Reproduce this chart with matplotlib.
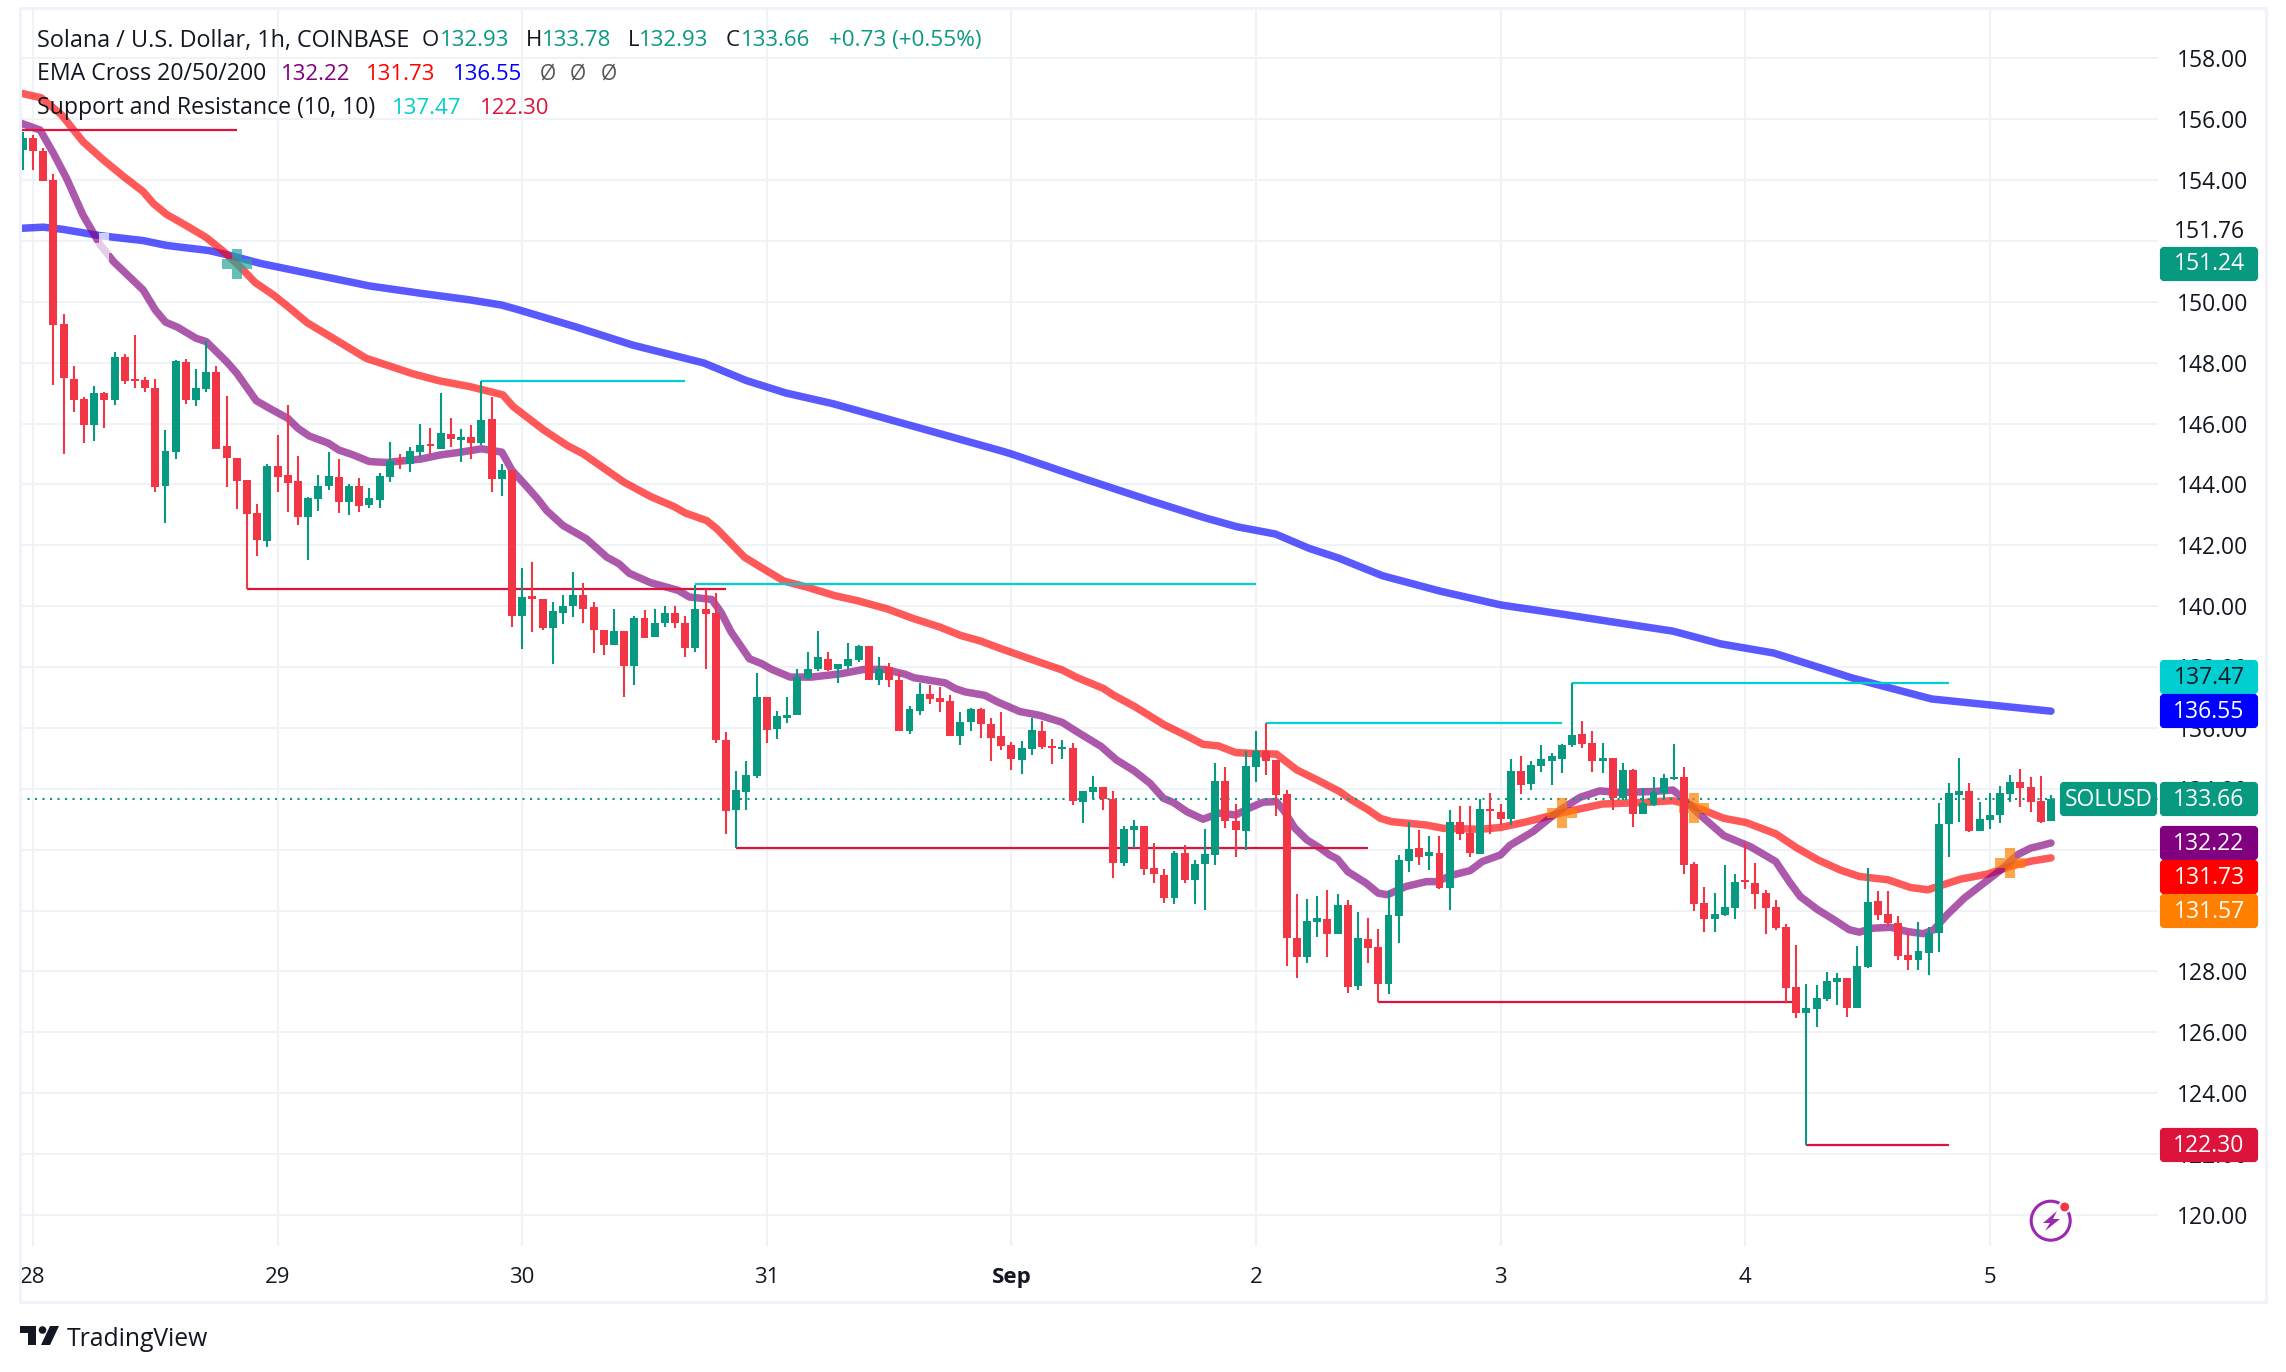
#!/usr/bin/env python3

"""SOL/USD 1h candles with EMA cross and support/resistance"""

import matplotlib
matplotlib.use("Agg")
import matplotlib.pyplot as plt
from matplotlib.patches import FancyBboxPatch, Rectangle, Circle, Polygon
from matplotlib.transforms import IdentityTransform

W, H = 2286, 1372
plt.rcParams["font.family"] = ["Open Sans", "DejaVu Sans"]

UP = "#089981"
DOWN = "#f23645"
GRID = "#f0f3f5"
TEXT = "#131722"

# open, high, low, close - first bar is 27 Aug 23:00
candles = [
    (154.99, 155.58, 154.33, 155.37), (155.38, 155.48, 154.33, 154.95), (154.95, 155.05, 153.97, 153.97),
    (154.00, 154.20, 147.27, 149.24), (149.27, 149.60, 145.00, 147.50), (147.46, 147.89, 146.38, 146.78),
    (146.81, 146.87, 145.36, 145.95), (145.95, 147.23, 145.43, 147.00), (147.00, 147.04, 145.86, 146.78),
    (146.78, 148.35, 146.61, 148.19), (148.19, 148.29, 147.30, 147.40), (147.46, 148.91, 147.17, 147.40),
    (147.43, 147.53, 147.04, 147.17), (147.17, 147.46, 143.75, 143.92), (143.95, 145.79, 142.74, 145.10),
    (145.07, 148.09, 144.84, 148.06), (148.02, 148.12, 146.64, 146.78), (146.78, 147.79, 146.58, 147.17),
    (147.14, 148.71, 147.04, 147.69), (147.69, 147.89, 145.17, 145.17), (145.26, 146.91, 143.92, 144.87),
    (144.87, 144.87, 143.20, 144.12), (144.15, 144.15, 140.56, 143.03), (143.06, 143.36, 141.65, 142.18),
    (142.14, 144.67, 141.95, 144.61), (144.61, 145.63, 143.75, 144.25), (144.31, 146.61, 143.10, 144.05),
    (144.12, 144.94, 142.67, 142.93), (142.93, 143.59, 141.52, 143.56), (143.52, 144.31, 143.13, 143.95),
    (143.95, 145.07, 143.82, 144.28), (144.25, 144.84, 143.06, 143.43), (143.43, 144.02, 143.00, 143.95),
    (143.95, 144.21, 143.10, 143.29), (143.33, 143.89, 143.23, 143.56), (143.49, 144.38, 143.23, 144.28),
    (144.25, 145.40, 144.08, 144.77), (144.80, 145.00, 144.51, 144.74), (144.67, 145.23, 144.41, 145.10),
    (145.07, 145.99, 144.90, 145.30), (145.33, 145.86, 145.00, 145.26), (145.17, 147.00, 145.17, 145.69),
    (145.66, 146.18, 145.23, 145.49), (145.46, 145.82, 144.74, 145.56), (145.56, 145.95, 144.84, 145.36),
    (145.36, 147.40, 145.30, 146.12), (146.15, 146.87, 143.75, 144.18), (144.18, 144.67, 143.62, 144.48),
    (144.46, 144.46, 139.30, 139.66), (139.66, 141.24, 138.58, 140.29), (140.32, 141.44, 139.14, 140.25),
    (140.22, 140.22, 139.23, 139.27), (139.27, 140.12, 138.09, 139.83), (139.79, 140.35, 139.40, 140.02),
    (139.99, 141.11, 139.63, 140.35), (140.35, 140.75, 139.43, 139.92), (139.96, 140.12, 138.45, 139.23),
    (139.23, 139.23, 138.38, 138.71), (138.71, 139.89, 138.71, 139.17), (139.17, 139.20, 137.03, 138.02),
    (138.05, 139.69, 137.40, 139.60), (139.60, 139.86, 138.97, 138.97), (139.00, 139.89, 139.00, 139.46),
    (139.43, 140.02, 139.33, 139.76), (139.76, 139.99, 139.27, 139.43), (139.43, 139.69, 138.32, 138.61),
    (138.61, 140.71, 138.48, 139.92), (139.92, 140.55, 137.95, 139.73), (139.79, 140.42, 135.52, 135.59),
    (135.59, 135.85, 132.52, 133.26), (133.30, 134.57, 132.06, 133.95), (133.88, 134.90, 133.29, 134.44),
    (134.41, 137.82, 134.37, 137.03), (137.03, 137.03, 135.49, 135.92), (135.95, 136.57, 135.62, 136.38),
    (136.34, 137.00, 136.15, 136.44), (136.41, 137.95, 136.41, 137.66), (137.63, 138.48, 137.56, 137.95),
    (137.95, 139.20, 137.86, 138.32), (138.28, 138.51, 137.86, 137.89), (137.92, 138.09, 137.49, 138.09),
    (138.05, 138.78, 137.95, 138.25), (138.22, 138.74, 138.18, 138.68), (138.68, 138.68, 137.59, 137.59),
    (137.59, 138.32, 137.40, 137.95), (137.99, 138.12, 137.36, 137.56), (137.59, 137.86, 135.89, 135.89),
    (135.89, 136.71, 135.79, 136.61), (136.57, 137.49, 136.41, 137.10), (137.10, 137.40, 136.77, 136.94),
    (136.97, 137.33, 136.51, 136.84), (136.90, 137.07, 135.75, 135.75), (135.75, 136.51, 135.43, 136.21),
    (136.18, 136.67, 135.89, 136.61), (136.61, 136.67, 135.66, 136.12), (136.12, 136.31, 134.90, 135.66),
    (135.74, 136.53, 135.28, 135.41), (135.44, 135.54, 134.62, 134.98), (134.95, 135.57, 134.49, 135.34),
    (135.31, 136.33, 135.11, 135.93), (135.90, 136.23, 135.31, 135.38), (135.41, 135.64, 134.82, 135.34),
    (135.31, 135.61, 134.98, 135.38), (135.34, 135.51, 133.47, 133.60), (133.57, 133.93, 132.88, 133.93),
    (133.90, 134.42, 133.67, 134.06), (134.06, 134.06, 133.31, 133.67), (133.67, 133.93, 131.07, 131.57),
    (131.57, 132.78, 131.47, 132.68), (132.65, 132.98, 132.06, 132.78), (132.78, 132.78, 131.17, 131.37),
    (131.40, 132.22, 130.91, 131.21), (131.17, 131.37, 130.25, 130.42), (130.42, 131.96, 130.22, 131.89),
    (131.89, 132.16, 130.91, 131.01), (131.01, 131.67, 130.22, 131.53), (131.53, 132.68, 130.02, 131.86),
    (131.83, 134.85, 131.50, 134.26), (134.26, 134.72, 132.72, 132.95), (132.95, 133.50, 131.76, 132.65),
    (132.62, 135.24, 131.99, 134.75), (134.72, 135.90, 134.23, 135.24), (135.24, 136.16, 134.46, 134.92),
    (134.95, 134.95, 133.11, 133.80), (133.83, 133.96, 128.18, 129.10), (129.10, 130.55, 127.79, 128.48),
    (128.48, 130.38, 128.28, 129.66), (129.63, 130.48, 129.14, 129.76), (129.73, 130.68, 128.48, 129.23),
    (129.23, 130.55, 129.23, 130.19), (130.19, 130.35, 127.30, 127.49), (127.53, 129.96, 127.40, 129.10),
    (129.07, 129.76, 128.28, 128.78), (128.81, 129.40, 127.01, 127.59), (127.59, 130.65, 127.26, 129.86),
    (129.83, 131.83, 128.94, 131.67), (131.63, 132.91, 131.27, 132.03), (132.06, 132.65, 131.50, 131.76),
    (131.80, 132.45, 131.34, 131.93), (131.89, 132.45, 130.71, 130.75), (130.75, 133.31, 130.02, 132.91),
    (132.91, 133.44, 132.32, 132.52), (132.55, 133.44, 131.76, 131.89), (131.86, 133.67, 131.86, 133.34),
    (133.34, 133.87, 132.52, 133.27), (133.24, 133.50, 132.81, 133.01), (133.01, 134.98, 132.81, 134.59),
    (134.59, 135.08, 133.83, 134.13), (134.16, 134.92, 133.96, 134.78), (134.75, 135.44, 134.56, 134.98),
    (134.92, 135.18, 134.13, 135.08), (134.98, 135.47, 134.52, 135.44), (135.44, 137.47, 135.38, 135.77),
    (135.80, 136.23, 135.34, 135.47), (135.51, 135.90, 134.56, 134.92), (134.92, 135.51, 134.52, 135.01),
    (135.01, 135.01, 133.31, 133.70), (133.70, 134.85, 133.64, 134.62), (134.62, 134.65, 132.75, 133.18),
    (133.18, 134.03, 133.18, 133.54), (133.47, 134.39, 133.44, 133.90), (133.87, 134.49, 133.67, 134.36),
    (134.33, 135.47, 134.29, 134.39), (134.39, 134.72, 131.21, 131.50), (131.53, 131.60, 129.99, 130.22),
    (130.25, 130.78, 129.30, 129.73), (129.73, 130.58, 129.30, 129.89), (129.86, 131.50, 129.83, 130.12),
    (130.09, 131.21, 129.73, 130.94), (131.01, 132.22, 130.71, 130.94), (130.91, 131.57, 130.06, 130.55),
    (130.58, 130.68, 129.23, 130.09), (130.12, 130.35, 129.37, 129.43), (129.46, 129.56, 127.00, 127.46),
    (127.49, 128.87, 126.48, 126.64), (126.64, 127.60, 122.30, 126.81), (126.78, 127.56, 126.18, 127.14),
    (127.10, 127.99, 127.04, 127.69), (127.66, 127.96, 126.91, 127.79), (127.79, 127.79, 126.51, 126.81),
    (126.81, 128.84, 126.81, 128.19), (128.15, 131.41, 128.12, 130.29), (130.32, 130.65, 129.70, 129.86),
    (129.89, 130.65, 129.50, 129.60), (129.60, 129.83, 128.38, 128.52), (128.55, 129.34, 128.06, 128.38),
    (128.38, 129.63, 128.06, 128.68), (128.61, 129.47, 127.89, 129.27), (129.27, 133.54, 128.65, 132.85),
    (132.85, 134.20, 131.77, 133.87), (133.80, 135.02, 132.92, 133.93), (133.93, 134.20, 132.59, 132.62),
    (132.62, 133.57, 132.62, 133.01), (132.98, 133.87, 132.69, 133.15), (133.15, 134.10, 132.88, 133.87),
    (133.84, 134.46, 133.57, 134.23), (134.23, 134.66, 133.41, 134.03), (134.07, 134.39, 133.24, 133.57),
    (133.61, 134.43, 132.88, 132.92), (132.93, 133.78, 132.93, 133.66),
]
first_bar = -1

# (bar, price)
ema20 = [(-1.3, 155.88), (0.7, 155.64), (2, 154.88), (3.3, 154.05), (4.9, 152.85), (6.6, 151.87), (7.9, 151.32),
         (10.8, 150.39), (12, 149.73), (13, 149.33), (14.2, 149.16), (16, 148.80), (17, 148.69), (19, 148.03),
         (20, 147.65), (21.9, 146.75), (23.2, 146.50), (25, 146.17), (26, 145.84), (27.1, 145.59), (29, 145.35),
         (30, 145.13), (31.4, 144.97), (33, 144.75), (34.7, 144.72), (38, 144.83), (40, 144.97), (42, 145.06),
         (44, 145.17), (46, 145.06), (47, 144.46), (48.2, 144.02), (49.5, 143.53), (50.4, 143.14), (52, 142.65),
         (54.3, 142.21), (56.3, 141.61), (57.5, 141.39), (58.5, 141.08), (60.6, 140.77), (63.3, 140.52),
         (64.4, 140.30), (66.6, 140.22), (67.5, 139.80), (68.5, 139.15), (70.3, 138.27), (71.5, 138.11),
         (72.5, 137.92), (74.3, 137.67), (76.4, 137.67), (79.3, 137.78), (81.5, 137.92), (83.6, 137.92),
         (85.6, 137.76), (86.4, 137.65), (89.5, 137.48), (90.5, 137.29), (91.5, 137.18), (93.4, 137.07),
         (94.6, 136.86), (96.8, 136.54), (98.8, 136.41), (101, 136.18), (102.4, 135.88), (104.8, 135.39),
         (106.3, 134.95), (108, 134.60), (109.6, 134.18), (110.9, 133.69), (111.9, 133.55), (113.2, 133.25),
         (114.8, 133.00), (116.4, 133.20), (118, 133.14), (119.5, 133.39), (120.7, 133.56), (122, 133.58),
         (122.8, 133.25), (123.8, 132.71), (125, 132.32), (126.3, 132.05), (127.2, 131.83), (128, 131.69),
         (129, 131.28), (130.8, 130.90), (132, 130.57), (132.9, 130.52), (134.7, 130.79), (136.7, 130.95),
         (137.7, 130.95), (139.3, 131.17), (141, 131.31), (142.2, 131.61), (144, 131.83), (144.9, 132.14),
         (147.2, 132.60), (148.8, 133.03), (150.1, 133.36), (151.8, 133.72), (153.7, 133.93), (155.7, 133.88),
         (159, 133.91), (160.9, 133.96), (161.9, 133.69), (163.2, 133.25), (165.9, 132.46), (168.5, 132.10),
         (171, 131.61), (172.3, 130.96), (173.4, 130.46), (175.1, 130.03), (176.7, 129.70), (178.2, 129.37),
         (179.2, 129.29), (180.5, 129.42), (182.3, 129.45), (183.9, 129.31), (185.5, 129.24), (186.5, 129.37),
         (187.8, 129.86), (189.5, 130.41), (191.4, 130.90), (193.1, 131.34), (194.7, 131.83), (196, 132.05),
         (197.1, 132.14), (198, 132.22)]

ema50 = [(-1.3, 156.86), (0.8, 156.70), (2.8, 156.14), (4.9, 155.26), (6.9, 154.66), (8.9, 154.11), (10.8, 153.62),
         (11.8, 153.23), (13.1, 152.87), (15.1, 152.49), (17, 152.11), (18.7, 151.65), (20.3, 151.15), (21.8, 150.63),
         (23.6, 150.22), (25.2, 149.79), (26.9, 149.31), (29.2, 148.85), (32.7, 148.14), (34.7, 147.92), (37.3, 147.63),
         (39.9, 147.40), (42.9, 147.21), (46.1, 146.94), (47.1, 146.56), (50.1, 145.79), (52.4, 145.28), (54, 145.00),
         (56.1, 144.51), (58, 144.07), (60.6, 143.60), (62.9, 143.27), (64, 143.06), (66.1, 142.81), (67.1, 142.54),
         (69.8, 141.61), (71.4, 141.28), (73.7, 140.82), (76, 140.62), (78.6, 140.35), (81, 140.17), (83.8, 139.91),
         (86.4, 139.59), (89, 139.31), (91, 139.04), (93, 138.85), (95, 138.60), (97.2, 138.34), (101, 137.90),
         (102.4, 137.66), (105, 137.30), (106, 137.08), (108.1, 136.70), (111, 136.10), (113.2, 135.74), (114.8, 135.46),
         (116.3, 135.41), (118, 135.19), (119.7, 135.16), (122, 135.14), (124, 134.62), (126, 134.29), (128.2, 133.91),
         (129.2, 133.67), (131, 133.31), (132.2, 133.03), (133.3, 132.92), (136.7, 132.81), (138.4, 132.70), (142, 132.67),
         (144, 132.73), (146.6, 132.92), (150.1, 133.22), (154, 133.50), (158, 133.55), (160.9, 133.61), (162.6, 133.47),
         (165.9, 133.03), (168.1, 132.89), (171, 132.52), (173.1, 132.05), (175.1, 131.67), (177.4, 131.32), (179.2, 131.12),
         (182, 131.01), (184.2, 130.76), (185.9, 130.68), (189.1, 131.03), (191.8, 131.20), (194, 131.45), (196, 131.62),
         (198, 131.73)]

ema200 = [(-1.3, 152.41), (1, 152.45), (2.9, 152.38), (6.6, 152.17), (10.8, 152.01), (13.1, 151.85), (17.3, 151.68),
          (19.6, 151.50), (22.3, 151.26), (24.9, 151.08), (33, 150.52), (38, 150.28), (42.9, 150.06), (46, 149.89),
          (47.8, 149.72), (53.3, 149.17), (58.8, 148.58), (65.8, 147.99), (70, 147.41), (73.9, 147.00), (78.5, 146.65),
          (85, 146.04), (94.9, 145.11), (96, 145.00), (103, 144.20), (109.6, 143.47), (114.8, 142.92), (118.1, 142.61),
          (121.9, 142.37), (125.2, 141.90), (128.1, 141.58), (132.4, 141.00), (138.1, 140.49), (144, 140.04), (150.4, 139.72),
          (155.2, 139.47), (160.9, 139.18), (165.6, 138.76), (170.8, 138.46), (178.5, 137.64), (186.3, 136.95), (198, 136.55)]

# start bar, end bar, level
resistance = [(44, 64, 147.40), (65, 120, 140.72), (121, 150, 136.16), (151, 188, 137.47)]
support = [(-1.3, 20, 155.64), (21, 68, 140.56), (69, 131, 132.06), (132, 173, 127.01), (174, 188, 122.30)]

# bar, price, colour of the cross
crosses = [(7, 151.76, "#ffffff"), (20, 151.24, "#26a69a"), (150, 133.21, "#ff8000"),
           (163, 133.37, "#ff8000"), (194, 131.57, "#ff8000")]

fig = plt.figure(figsize=(W / 100, H / 100), dpi=100)
ax = fig.add_axes([20 / W, (H - 1246) / H, 2138 / W, 1238 / H])

for s in ax.spines.values():
    s.set_visible(False)
ax.set_xlim(-1.276, 208.5)
ax.set_ylim(118.98, 159.65)
ax.set_axisbelow(True)
ax.grid(True, color=GRID, lw=1.5)

ax.yaxis.tick_right()
ax.set_yticks(range(120, 160, 2))
# 130, 132 and 152 sit fully behind the price tags
ax.set_yticklabels(["" if v in (130, 132, 152) else "%.2f" % v for v in range(120, 160, 2)], fontsize=16.5, color=TEXT)
ax.tick_params(axis="y", length=0, pad=13.5)
ax.set_xticks([0, 24, 48, 72, 96, 120, 144, 168, 192])
ax.set_xticklabels(["28", "29", "30", "31", "Sep", "2", "3", "4", "5"], fontsize=16, color=TEXT)
ax.get_xticklabels()[4].set_fontweight("bold")
ax.tick_params(axis="x", length=0, pad=15)

for line, col in [(ema200, "#0000ff"), (ema50, "#ff0000"), (ema20, "#800080")]:
    ax.plot([p[0] for p in line], [p[1] for p in line], color=col, alpha=0.65, lw=5.4,
            solid_capstyle="round", solid_joinstyle="round", zorder=3)

for a, b, level in resistance:
    ax.plot([a, b], [level, level], color="#00d0d4", lw=1.6, solid_capstyle="butt", zorder=3.5)
for a, b, level in support:
    ax.plot([a, b], [level, level], color="#dc143c", lw=1.6, solid_capstyle="butt", zorder=3.5)

ax.axhline(133.66, color=UP, lw=1.5, ls=(0, (1, 2.6)), zorder=3.2)

for x, p, col in crosses:
    ax.plot([x], [p], marker="P", ms=22, mew=0, color=col, alpha=0.7, zorder=3.6)

xs = [first_bar + n for n in range(len(candles))]
colors = [UP if c[3] >= c[0] else DOWN for c in candles]
ax.vlines(xs, [c[2] for c in candles], [c[1] for c in candles], colors=colors, lw=1.5, zorder=4)
ax.bar(xs, [abs(c[3] - c[0]) for c in candles], bottom=[min(c[0], c[3]) for c in candles],
       width=0.78, color=colors, lw=0, zorder=4.1)

# everything below is placed in image pixels, y measured from the top


def tag(x0, x1, yc, bg, label, fg="white"):
    fig.add_artist(FancyBboxPatch((x0 + 2, H - yc - 15), x1 - x0 - 4, 30, boxstyle="round,pad=0,rounding_size=2",
                                  mutation_aspect=1, fc=bg, ec=bg, lw=3, transform=IdentityTransform(), zorder=2))
    fig.text((x0 + x1) / 2 / W, 1 - (yc + 0.5) / H, label, color=fg, fontsize=16.5, ha="center", va="center", zorder=5)


tag(2160, 2258, 231, "white", "151.76", TEXT)
tag(2160, 2258, 264, UP, "151.24")
tag(2160, 2258, 677, "#00ced1", "137.47", TEXT)
tag(2160, 2258, 711, "#0000ff", "136.55")
tag(2060, 2157, 799, UP, "SOLUSD")
tag(2160, 2258, 799, UP, "133.66")
tag(2160, 2258, 843, "#800080", "132.22")
tag(2160, 2258, 877, "#ff0000", "131.73")
tag(2160, 2258, 911, "#ff7f00", "131.57")
tag(2160, 2258, 1145, "#dc143c", "122.30")

legend = [
    (40.5, [(36.7, "Solana / U.S. Dollar, 1h, COINBASE", TEXT, 16.8), (422, "O", TEXT, 16), (440, "132.93", UP, 16),
            (525.5, "H", TEXT, 16), (542, "133.78", UP, 16), (627.5, "L", TEXT, 16), (639, "132.93", UP, 16),
            (725.5, "C", TEXT, 16), (741, "133.66", UP, 16), (829, "+0.73 (+0.55%)", UP, 16.2)]),
    (74.5, [(36.7, "EMA Cross 20/50/200", TEXT, 16.7), (280.6, "132.22", "#800080", 16), (366, "131.73", "#ff0000", 16),
            (452.5, "136.55", "#0000ff", 16), (540, "\u00d8", "#555555", 15), (570, "\u00d8", "#555555", 15),
            (601, "\u00d8", "#555555", 15)]),
    (108.5, [(36.7, "Support and Resistance (10, 10)", TEXT, 16.7), (392, "137.47", "#00ced1", 16),
             (479.6, "122.30", "#dc143c", 16)]),
]
for y, parts in legend:
    for x, label, col, size in parts:
        fig.text(x / W, 1 - y / H, label, color=col, fontsize=size, ha="left", va="center", zorder=6)

# frame around chart and price scale
fig.add_artist(Rectangle((20, H - 1302), 2246, 1294, fc="none", ec="#f0f3fa", lw=2.2,
                         transform=IdentityTransform(), zorder=1))

# lightning badge
purple = "#9c27b0"
fig.add_artist(Circle((2050.7, H - 1220.7), 19.5, fc="none", ec=purple, lw=2.2, transform=IdentityTransform(), zorder=4))
fig.add_artist(Polygon([(2057, H - 1211), (2043, H - 1223), (2050, H - 1223), (2045, H - 1231), (2060, H - 1219),
                        (2053, H - 1219)], fc=purple, ec="none", transform=IdentityTransform(), zorder=4))
fig.add_artist(Circle((2064.7, H - 1207), 5.5, fc="#f23645", ec="white", lw=1.5, transform=IdentityTransform(), zorder=4))

# TradingView logo
fig.add_artist(Polygon([(20, H - 1326), (36, H - 1326), (36, H - 1345), (28, H - 1345), (28, H - 1333), (20, H - 1333)],
                       fc=TEXT, ec="none", transform=IdentityTransform(), zorder=4))
fig.add_artist(Circle((42.5, H - 1330), 3.8, fc=TEXT, ec="none", transform=IdentityTransform(), zorder=4))
fig.add_artist(Polygon([(50, H - 1326), (59, H - 1326), (50, H - 1345), (41, H - 1345)], fc=TEXT, ec="none",
                       transform=IdentityTransform(), zorder=4))
fig.text(66.5 / W, 1 - 1340 / H, "TradingView", color=TEXT, fontsize=17.8, ha="left", va="center", zorder=6)

fig.savefig("out.png", dpi=100)
plt.close(fig)
